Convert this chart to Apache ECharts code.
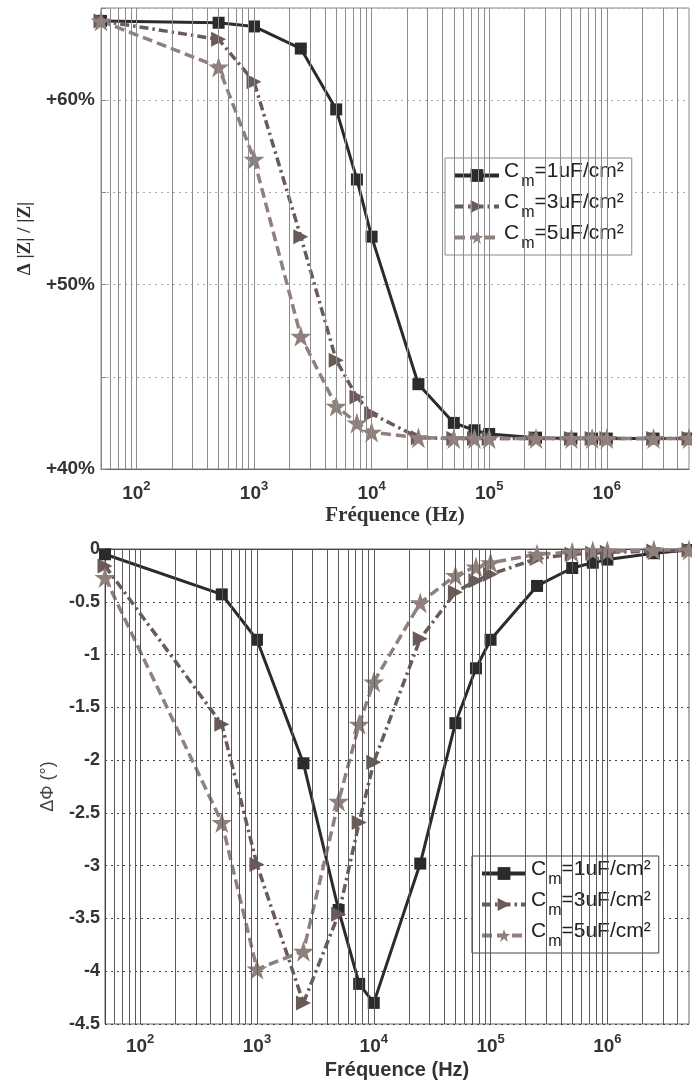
<!DOCTYPE html>
<html><head><meta charset="utf-8">
<script src="https://cdn.jsdelivr.net/npm/echarts@6/dist/echarts.min.js"></script>
<style>html,body{margin:0;padding:0;background:#fff}#c{width:692px;height:1084px}</style>
</head><body><div id="c"></div>
<script>
// Frequencies (Hz)
const freqs = [50, 500, 1000, 2500, 5000, 7500, 1e4, 2.5e4, 5e4, 7.5e4, 1e5, 2.5e5, 5e5, 7.5e5, 1e6, 2.5e6, 5e6];
// Top: Δ|Z|/|Z| (%)
const dZ1 = [64.3, 64.2, 64.0, 62.8, 59.5, 55.7, 52.6, 44.6, 42.5, 42.1, 41.9, 41.7, 41.65, 41.65, 41.65, 41.65, 41.65];
const dZ3 = [64.3, 63.3, 61.0, 52.6, 45.9, 43.9, 43.0, 41.7, 41.65, 41.65, 41.65, 41.65, 41.65, 41.65, 41.65, 41.65, 41.65];
const dZ5 = [64.3, 61.8, 56.8, 47.2, 43.4, 42.5, 42.0, 41.7, 41.65, 41.65, 41.65, 41.65, 41.65, 41.65, 41.65, 41.65, 41.65];
// Bottom: ΔΦ (°)
const dP1 = [-0.05, -0.43, -0.86, -2.03, -3.42, -4.12, -4.30, -2.98, -1.65, -1.13, -0.86, -0.35, -0.18, -0.13, -0.10, -0.04, -0.01];
const dP3 = [-0.16, -1.66, -2.99, -4.30, -3.46, -2.59, -2.02, -0.85, -0.41, -0.30, -0.24, -0.09, -0.05, -0.04, -0.03, -0.02, -0.01];
const dP5 = [-0.27, -2.59, -3.98, -3.81, -2.39, -1.66, -1.26, -0.51, -0.25, -0.17, -0.13, -0.05, -0.03, -0.02, -0.02, -0.01, -0.01];
// Legend labels
const legendLabels = {'1': '{n|C}{s|m}{n|=1uF/cm²}', '3': '{n|C}{s|m}{n|=3uF/cm²}', '5': '{n|C}{s|m}{n|=5uF/cm²}'};
// Log grid positions (decades and in-between)
const decadeTicks = [100, 1000, 10000, 100000, 1000000];
const minorTicks = [60, 70, 80, 90,
  200, 300, 400, 500, 600, 700, 800, 900,
  2000, 3000, 4000, 5000, 6000, 7000, 8000, 9000,
  20000, 30000, 40000, 50000, 60000, 70000, 80000, 90000,
  200000, 300000, 400000, 500000, 600000, 700000, 800000, 900000,
  2000000, 3000000, 4000000];

const STAR = 'path://M50,0L61.2,34.5L97.6,34.5L68.2,55.9L79.4,90.5L50,69.1L20.6,90.5L31.8,55.9L2.4,34.5L38.8,34.5Z';
const C1 = '#2b2b2b', C3 = '#6a5b58', C5 = '#8f807c';

function pairs(arr){ return freqs.map((f,i)=>[f, arr[i]]); }

function styleFor(k){
  if (k==='1') return {color:C1, symbol:'rect', symbolSize:12, symbolRotate:0, lineStyle:{width:3, type:'solid'}};
  if (k==='3') return {color:C3, symbol:'triangle', symbolSize:15, symbolRotate:-90, lineStyle:{width:3.5, type:[9,4,2.5,4]}};
  return {color:C5, symbol:STAR, symbolSize:21, symbolRotate:0, lineStyle:{width:3.5, type:[10,5]}};
}
function mk(name, arr, gi){
  const s = styleFor(name[1]);
  return {
    name, type:'line', xAxisIndex:gi, yAxisIndex:gi, data:pairs(arr),
    symbol:s.symbol, symbolSize:s.symbolSize, symbolRotate:s.symbolRotate, showAllSymbol:true,
    itemStyle:{color:s.color}, lineStyle:Object.assign({color:s.color}, s.lineStyle), z:3
  };
}
function gridSeries(gi, color){
  return {type:'line', xAxisIndex:gi, yAxisIndex:gi, data:[], z:1, silent:true,
    markLine:{silent:true, symbol:'none', animation:false, label:{show:false},
      lineStyle:{color:color, width:1, type:'solid'},
      data: decadeTicks.concat(minorTicks).map(v=>({xAxis:v}))}};
}
function decadeFmt(v){
  const l = Math.log10(v), r = Math.round(l);
  return Math.abs(l-r) < 1e-6 ? '{b|10}{s|' + r + '}' : '';
}
const xRich = {
  b:{fontSize:19, fontWeight:'bold', fontFamily:'Liberation Sans', color:'#333', verticalAlign:'bottom', lineHeight:23},
  s:{fontSize:13, fontWeight:'bold', fontFamily:'Liberation Sans', color:'#333', verticalAlign:'top', lineHeight:23}
};
const legRich = {
  n:{fontSize:21, fontFamily:'Liberation Sans', color:'#222', verticalAlign:'top', lineHeight:29},
  s:{fontSize:16, fontFamily:'Liberation Sans', color:'#222', verticalAlign:'bottom', lineHeight:29, padding:[0,0,0,2]}
};

const chart = echarts.init(document.getElementById('c'), null, {renderer:'canvas'});
chart.setOption({
  animation:false,
  backgroundColor:'#fff',
  grid:[
    {left:101, top:8, right:3, height:461, show:true, borderColor:'#888', borderWidth:1},
    {left:105, top:549, right:3, height:475, show:true, borderColor:'#666', borderWidth:1}
  ],
  xAxis:[
    {type:'log', logBase:10, gridIndex:0, min:50, max:5e6,
     name:'Fréquence (Hz)', nameLocation:'middle', nameGap:36,
     nameTextStyle:{fontFamily:'Liberation Serif', fontWeight:'bold', fontSize:21, color:'#333'},
     axisLine:{show:true, lineStyle:{color:'#666'}}, axisTick:{show:false},
     axisLabel:{formatter:decadeFmt, rich:xRich, margin:11, showMinLabel:false, showMaxLabel:false},
     splitLine:{show:false}},
    {type:'log', logBase:10, gridIndex:1, min:50, max:5e6,
     name:'Fréquence (Hz)', nameLocation:'middle', nameGap:36,
     nameTextStyle:{fontFamily:'Liberation Sans', fontWeight:'bold', fontSize:20, color:'#333'},
     axisLine:{show:true, lineStyle:{color:'#444'}}, axisTick:{show:false},
     axisLabel:{formatter:decadeFmt, rich:xRich, margin:9, showMinLabel:false, showMaxLabel:false},
     splitLine:{show:false}}
  ],
  yAxis:[
    {type:'value', gridIndex:0, min:40, max:65, interval:5,
     name:'Δ |Z| / |Z|', nameLocation:'middle', nameGap:66, nameRotate:90,
     nameTextStyle:{fontFamily:'Liberation Serif', fontWeight:'bold', fontSize:19, color:'#333'},
     axisLine:{show:true, lineStyle:{color:'#888'}}, axisTick:{show:true, inside:true, length:5, lineStyle:{color:'#888'}},
     axisLabel:{formatter:v => (v % 10 === 0 && v < 65) ? '+' + v + '%' : '', margin:6,
       fontFamily:'Liberation Sans', fontWeight:'bold', fontSize:19, color:'#333'},
     splitLine:{show:true, lineStyle:{color:'#aaa', width:1, type:[2,4]}}},
    {type:'value', gridIndex:1, min:-4.5, max:0, interval:0.5,
     name:'ΔΦ (°)', nameLocation:'middle', nameGap:48, nameRotate:90,
     nameTextStyle:{fontFamily:'Liberation Sans', fontSize:18, color:'#444'},
     axisLine:{show:true, lineStyle:{color:'#444'}}, axisTick:{show:false},
     axisLabel:{margin:5, fontFamily:'Liberation Sans', fontWeight:'bold', fontSize:18, color:'#333'},
     splitLine:{show:true, lineStyle:{color:'#444', width:1, type:[2,4]}}}
  ],
  legend:[
    {data:['z1','z3','z5'], orient:'vertical', left:445, top:158, itemWidth:44, itemHeight:16, itemGap:2,
     padding:[3,8,3,8], backgroundColor:'#fff', borderColor:'#888', borderWidth:1,
     lineStyle:{width:4}, formatter:n => legendLabels[n[1]], textStyle:{rich:legRich}, selectedMode:false},
    {data:['p1','p3','p5'], orient:'vertical', left:472, top:856, itemWidth:44, itemHeight:16, itemGap:2,
     padding:[3,8,3,8], backgroundColor:'#fff', borderColor:'#444', borderWidth:1,
     lineStyle:{width:4}, formatter:n => legendLabels[n[1]], textStyle:{rich:legRich}, selectedMode:false}
  ],
  series:[
    gridSeries(0, '#8c8c8c'), gridSeries(1, '#5a5a5a'),
    mk('z1', dZ1, 0), mk('z3', dZ3, 0), mk('z5', dZ5, 0),
    mk('p1', dP1, 1), mk('p3', dP3, 1), mk('p5', dP5, 1)
  ]
});
</script></body></html>
